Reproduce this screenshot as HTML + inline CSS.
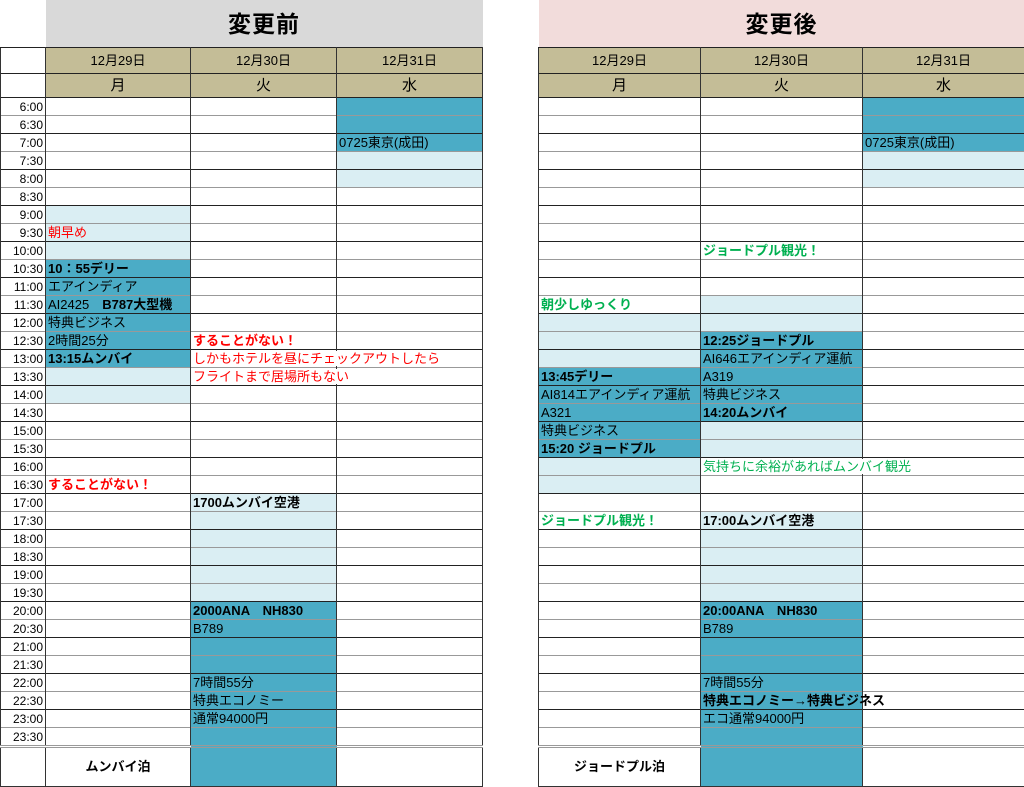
<!DOCTYPE html>
<html><head><meta charset="utf-8">
<style>
body{margin:0;width:1024px;height:786px;background:#fff;position:relative;overflow:hidden;font-family:"Liberation Sans","Noto Sans CJK JP",sans-serif;}
table{position:absolute;top:0;border-collapse:collapse;table-layout:fixed;font-size:13px;color:#000;}
td,th{padding:0 2px;white-space:nowrap;overflow:visible;border-left:1px solid #333;border-right:1px solid #333;border-top:1px solid #999;font-weight:normal;text-align:left;line-height:16px;height:17px;}
tr.h td,tr.h th{border-top:1px solid #222;}
th{text-align:right;font-size:12px;}
.t td{height:47px;border:none;font-size:23px;font-weight:bold;text-align:center;letter-spacing:1px;}
.t th{border:none;}
.dt td{background:#C4BD97;text-align:center;font-size:13px;height:25px;border-top:1px solid #222;}
.dy td{background:#C4BD97;text-align:center;font-size:15px;height:23px;border-top:1px solid #222;}
.dt th,.dy th{border-top:1px solid #222;}
.d{background:#4BACC6;}
.l{background:#DAEEF3;}
.b{font-weight:bold;}
.r{color:#f00;}
.g{color:#00B050;font-weight:bold;}
.gn{color:#00B050;}
.o span{position:relative;z-index:2;background:#fff;padding-right:2px;}
.f td,.f th{height:38px;border-top:3px double #999;border-bottom:1px solid #333;text-align:center;font-weight:bold;}
</style></head><body>
<table style="left:0;width:482px">
<colgroup><col style="width:45px"><col style="width:145px"><col style="width:146px"><col style="width:146px"></colgroup>
<tr class="t"><th></th><td colspan="3" style="background:#D9D9D9">変更前</td></tr>
<tr class="dt"><th></th><td>12月29日</td><td>12月30日</td><td>12月31日</td></tr>
<tr class="dy"><th></th><td>月</td><td>火</td><td>水</td></tr>
<tr class="h"><th>6:00</th><td></td><td></td><td class="d"></td></tr>
<tr><th>6:30</th><td></td><td></td><td class="d"></td></tr>
<tr class="h"><th>7:00</th><td></td><td></td><td class="d">0725東京(成田)</td></tr>
<tr><th>7:30</th><td></td><td></td><td class="l"></td></tr>
<tr class="h"><th>8:00</th><td></td><td></td><td class="l"></td></tr>
<tr><th>8:30</th><td></td><td></td><td></td></tr>
<tr class="h"><th>9:00</th><td class="l"></td><td></td><td></td></tr>
<tr><th>9:30</th><td class="l r">朝早め</td><td></td><td></td></tr>
<tr class="h"><th>10:00</th><td class="l"></td><td></td><td></td></tr>
<tr><th>10:30</th><td class="d b">10：55デリー</td><td></td><td></td></tr>
<tr class="h"><th>11:00</th><td class="d">エアインディア</td><td></td><td></td></tr>
<tr><th>11:30</th><td class="d">AI2425　<b>B787大型機</b></td><td></td><td></td></tr>
<tr class="h"><th>12:00</th><td class="d">特典ビジネス</td><td></td><td></td></tr>
<tr><th>12:30</th><td class="d">2時間25分</td><td class="r b">することがない！</td><td></td></tr>
<tr class="h"><th>13:00</th><td class="d b">13:15ムンバイ</td><td class="r o"><span>しかもホテルを昼にチェックアウトしたら</span></td><td></td></tr>
<tr><th>13:30</th><td class="l"></td><td class="r o"><span>フライトまで居場所もない</span></td><td></td></tr>
<tr class="h"><th>14:00</th><td class="l"></td><td></td><td></td></tr>
<tr><th>14:30</th><td></td><td></td><td></td></tr>
<tr class="h"><th>15:00</th><td></td><td></td><td></td></tr>
<tr><th>15:30</th><td></td><td></td><td></td></tr>
<tr class="h"><th>16:00</th><td></td><td></td><td></td></tr>
<tr><th>16:30</th><td class="r b">することがない！</td><td></td><td></td></tr>
<tr class="h"><th>17:00</th><td></td><td class="l b">1700ムンバイ空港</td><td></td></tr>
<tr><th>17:30</th><td></td><td class="l"></td><td></td></tr>
<tr class="h"><th>18:00</th><td></td><td class="l"></td><td></td></tr>
<tr><th>18:30</th><td></td><td class="l"></td><td></td></tr>
<tr class="h"><th>19:00</th><td></td><td class="l"></td><td></td></tr>
<tr><th>19:30</th><td></td><td class="l"></td><td></td></tr>
<tr class="h"><th>20:00</th><td></td><td class="d b">2000ANA　NH830</td><td></td></tr>
<tr><th>20:30</th><td></td><td class="d">B789</td><td></td></tr>
<tr class="h"><th>21:00</th><td></td><td class="d"></td><td></td></tr>
<tr><th>21:30</th><td></td><td class="d"></td><td></td></tr>
<tr class="h"><th>22:00</th><td></td><td class="d">7時間55分</td><td></td></tr>
<tr><th>22:30</th><td></td><td class="d">特典エコノミー</td><td></td></tr>
<tr class="h"><th>23:00</th><td></td><td class="d">通常94000円</td><td></td></tr>
<tr><th>23:30</th><td></td><td class="d"></td><td></td></tr>
<tr class="f"><th></th><td>ムンバイ泊</td><td class="d"></td><td></td></tr>
</table>

<table style="left:538px;width:486px">
<colgroup><col style="width:162px"><col style="width:162px"><col style="width:162px"></colgroup>
<tr class="t"><td colspan="3" style="background:#F2DCDB">変更後</td></tr>
<tr class="dt"><td>12月29日</td><td>12月30日</td><td>12月31日</td></tr>
<tr class="dy"><td>月</td><td>火</td><td>水</td></tr>
<tr class="h"><td></td><td></td><td class="d"></td></tr>
<tr><td></td><td></td><td class="d"></td></tr>
<tr class="h"><td></td><td></td><td class="d">0725東京(成田)</td></tr>
<tr><td></td><td></td><td class="l"></td></tr>
<tr class="h"><td></td><td></td><td class="l"></td></tr>
<tr><td></td><td></td><td></td></tr>
<tr class="h"><td></td><td></td><td></td></tr>
<tr><td></td><td></td><td></td></tr>
<tr class="h"><td></td><td class="g">ジョードプル観光！</td><td></td></tr>
<tr><td></td><td></td><td></td></tr>
<tr class="h"><td></td><td></td><td></td></tr>
<tr><td class="g">朝少しゆっくり</td><td class="l"></td><td></td></tr>
<tr class="h"><td class="l"></td><td class="l"></td><td></td></tr>
<tr><td class="l"></td><td class="d b">12:25ジョードプル</td><td></td></tr>
<tr class="h"><td class="l"></td><td class="d">AI646エアインディア運航</td><td></td></tr>
<tr><td class="d b">13:45デリー</td><td class="d">A319</td><td></td></tr>
<tr class="h"><td class="d">AI814エアインディア運航</td><td class="d">特典ビジネス</td><td></td></tr>
<tr><td class="d">A321</td><td class="d b">14:20ムンバイ</td><td></td></tr>
<tr class="h"><td class="d">特典ビジネス</td><td class="l"></td><td></td></tr>
<tr><td class="d b">15:20 ジョードプル</td><td class="l"></td><td></td></tr>
<tr class="h"><td class="l"></td><td class="gn o"><span>気持ちに余裕があればムンバイ観光</span></td><td></td></tr>
<tr><td class="l"></td><td></td><td></td></tr>
<tr class="h"><td></td><td></td><td></td></tr>
<tr><td class="g">ジョードプル観光！</td><td class="l b">17:00ムンバイ空港</td><td></td></tr>
<tr class="h"><td></td><td class="l"></td><td></td></tr>
<tr><td></td><td class="l"></td><td></td></tr>
<tr class="h"><td></td><td class="l"></td><td></td></tr>
<tr><td></td><td class="l"></td><td></td></tr>
<tr class="h"><td></td><td class="d b">20:00ANA　NH830</td><td></td></tr>
<tr><td></td><td class="d">B789</td><td></td></tr>
<tr class="h"><td></td><td class="d"></td><td></td></tr>
<tr><td></td><td class="d"></td><td></td></tr>
<tr class="h"><td></td><td class="d">7時間55分</td><td></td></tr>
<tr><td></td><td class="d b">特典エコノミー→特典ビジネス</td><td></td></tr>
<tr class="h"><td></td><td class="d">エコ通常94000円</td><td></td></tr>
<tr><td></td><td class="d"></td><td></td></tr>
<tr class="f"><td>ジョードプル泊</td><td class="d"></td><td></td></tr>
</table>
</body></html>
